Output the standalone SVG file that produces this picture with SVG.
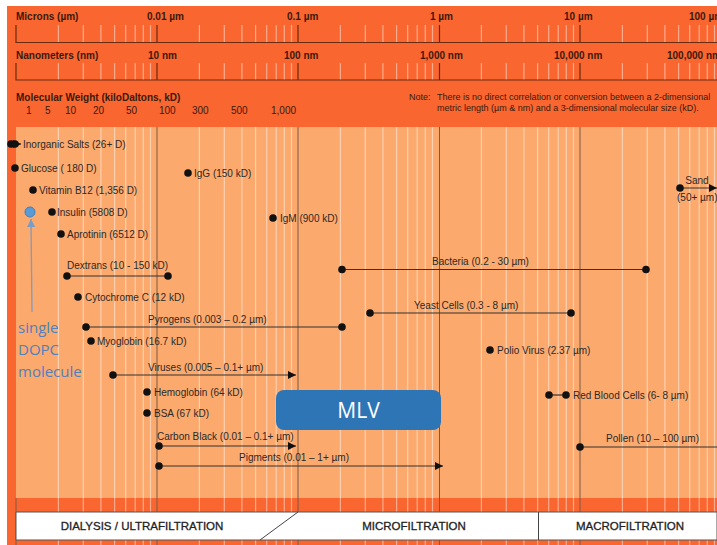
<svg xmlns="http://www.w3.org/2000/svg" width="717" height="545" viewBox="0 0 717 545">
<defs>
<marker id="arr" viewBox="0 0 10 10" refX="10" refY="5" markerWidth="9" markerHeight="8" markerUnits="userSpaceOnUse" orient="auto"><path d="M0,0 L10,5 L0,10 Z" fill="#111"/></marker>
<marker id="barr" viewBox="0 0 10 10" refX="10" refY="5" markerWidth="9" markerHeight="8" markerUnits="userSpaceOnUse" orient="auto"><path d="M0,0 L10,5 L0,10 Z" fill="#7a9cc6"/></marker>
<style>
.hd{font-family:"Liberation Sans",Arial,sans-serif;font-size:10px;font-weight:bold;fill:#3a1a0a}
.sc{font-family:"Liberation Sans",Arial,sans-serif;font-size:10px;fill:#3a1a0a}
.note{font-family:"Liberation Sans",Arial,sans-serif;font-size:9px;fill:#3a1a0a}
.lb{font-family:"Liberation Sans",Arial,sans-serif;font-size:10px;fill:#2a2a2a}
.bt{font-family:"Liberation Sans",Arial,sans-serif;font-size:11.5px;fill:#222;stroke:#222;stroke-width:0.3;text-anchor:middle}
.dot{fill:#111}
.ln{stroke:#333;stroke-width:1.2;fill:none}
.minor{stroke:#fff;stroke-opacity:0.45;stroke-width:1.2;fill:none}
.major{stroke:#7a5a45;stroke-width:1;fill:none}
.mtick{stroke:#6b2a10;stroke-width:1.2;fill:none}
</style>
</defs>
<rect width="717" height="545" fill="#fff"/>
<rect x="7" y="6" width="710" height="539" fill="#fa6630"/>
<rect x="16" y="127" width="701" height="371" fill="#fca96d"/>
<g id="grid">
<path class="minor" d="M58.4,25V42M83.3,25V42M100.9,25V42M114.6,25V42M125.7,25V42M135.2,25V42M143.3,25V42M150.5,25V42M199.4,25V42M224.3,25V42M241.9,25V42M255.6,25V42M266.7,25V42M276.2,25V42M284.3,25V42M291.5,25V42M340.4,25V42M365.3,25V42M382.9,25V42M396.6,25V42M407.7,25V42M417.2,25V42M425.3,25V42M432.5,25V42M481.4,25V42M506.3,25V42M523.9,25V42M537.6,25V42M548.7,25V42M558.2,25V42M566.3,25V42M573.5,25V42M622.4,25V42M647.3,25V42M664.9,25V42M678.6,25V42M689.7,25V42M699.2,25V42M707.3,25V42M714.5,25V42"/>
<path class="minor" d="M58.4,63V80M83.3,63V80M100.9,63V80M114.6,63V80M125.7,63V80M135.2,63V80M143.3,63V80M150.5,63V80M199.4,63V80M224.3,63V80M241.9,63V80M255.6,63V80M266.7,63V80M276.2,63V80M284.3,63V80M291.5,63V80M340.4,63V80M365.3,63V80M382.9,63V80M396.6,63V80M407.7,63V80M417.2,63V80M425.3,63V80M432.5,63V80M481.4,63V80M506.3,63V80M523.9,63V80M537.6,63V80M548.7,63V80M558.2,63V80M566.3,63V80M573.5,63V80M622.4,63V80M647.3,63V80M664.9,63V80M678.6,63V80M689.7,63V80M699.2,63V80M707.3,63V80M714.5,63V80"/>
<path class="minor" d="M58.4,127V545M83.3,127V545M100.9,127V545M114.6,127V545M125.7,127V545M135.2,127V545M143.3,127V545M150.5,127V545M199.4,127V545M224.3,127V545M241.9,127V545M255.6,127V545M266.7,127V545M276.2,127V545M284.3,127V545M291.5,127V545M340.4,127V545M365.3,127V545M382.9,127V545M396.6,127V545M407.7,127V545M417.2,127V545M425.3,127V545M432.5,127V545M481.4,127V545M506.3,127V545M523.9,127V545M537.6,127V545M548.7,127V545M558.2,127V545M566.3,127V545M573.5,127V545M622.4,127V545M647.3,127V545M664.9,127V545M678.6,127V545M689.7,127V545M699.2,127V545M707.3,127V545M714.5,127V545"/>
<path class="major" d="M157,127V545M298,127V545M439.5,127V545M580,127V545M16,498V545"/>
<path class="mtick" d="M16,25V42.5H717M16,63V80H717M157,25V42M298,25V42M439.5,25V42M580,25V42M157,63V80M298,63V80M439.5,63V80M580,63V80"/>
</g>
<g id="header">
<text class="hd" x="16" y="20">Microns (µm)</text>
<text class="hd" x="147" y="20">0.01 µm</text>
<text class="hd" x="287" y="20">0.1 µm</text>
<text class="hd" x="430" y="20">1 µm</text>
<text class="hd" x="564" y="20">10 µm</text>
<text class="hd" x="689" y="20">100 µm</text>
<text class="hd" x="16" y="59">Nanometers (nm)</text>
<text class="hd" x="148" y="59">10 nm</text>
<text class="hd" x="284" y="59">100 nm</text>
<text class="hd" x="420" y="59">1,000 nm</text>
<text class="hd" x="554" y="59">10,000 nm</text>
<text class="hd" x="667" y="59">100,000 nm</text>
<text class="hd" x="16" y="101">Molecular Weight (kiloDaltons, kD)</text>
<text class="sc" x="26" y="114">1</text>
<text class="sc" x="45" y="114">5</text>
<text class="sc" x="65" y="114">10</text>
<text class="sc" x="93" y="114">20</text>
<text class="sc" x="126" y="114">50</text>
<text class="sc" x="159" y="114">100</text>
<text class="sc" x="192" y="114">300</text>
<text class="sc" x="231" y="114">500</text>
<text class="sc" x="271" y="114">1,000</text>
<text class="note" x="409" y="100">Note:</text>
<text class="note" x="437" y="100">There is no direct correlation or conversion between a 2-dimensional</text>
<text class="note" x="437" y="111">metric length (µm &amp; nm) and a 3-dimensional molecular size (kD).</text>
</g>
<g id="connectors">
<path class="ln" d="M15,144H21" marker-end="url(#arr)"/>
<path class="ln" d="M680,188H717" marker-end="url(#arr)"/>
<path class="ln" d="M67,276H168"/>
<path class="ln" d="M342,269.5H646"/>
<path class="ln" d="M370,313H571"/>
<path class="ln" d="M86,327H342"/>
<path class="ln" d="M113,375H296" marker-end="url(#arr)"/>
<path class="ln" d="M549,395H566"/>
<path class="ln" d="M159,446H296" marker-end="url(#arr)"/>
<path class="ln" d="M159,466H443" marker-end="url(#arr)"/>
<path class="ln" d="M580,447H717"/>
<path d="M32,312L31,219" stroke="#7a9cc6" stroke-width="1.3" fill="none" marker-end="url(#barr)"/>
</g>
<g id="inorganic-salts"><circle class="dot" cx="11" cy="144" r="3.8"/><circle class="dot" cx="15" cy="144" r="3.8"/><text class="lb" x="23" y="147.5">Inorganic Salts (26+ D)</text></g>
<g id="glucose"><circle class="dot" cx="15" cy="168" r="3.8"/><text class="lb" x="21" y="171.5">Glucose ( 180 D)</text></g>
<g id="vitamin-b12"><circle class="dot" cx="33" cy="190" r="3.8"/><text class="lb" x="39" y="193.5">Vitamin B12 (1,356 D)</text></g>
<g id="dopc"><circle cx="30" cy="212" r="5" fill="#5b9bd5" stroke="#3f7fbf" stroke-width="1"/></g>
<g id="insulin"><circle class="dot" cx="52" cy="212" r="3.8"/><text class="lb" x="57" y="215.5">Insulin (5808 D)</text></g>
<g id="aprotinin"><circle class="dot" cx="61" cy="234" r="3.8"/><text class="lb" x="67" y="237.5">Aprotinin (6512 D)</text></g>
<g id="igg"><circle class="dot" cx="188" cy="173" r="3.8"/><text class="lb" x="194" y="176.5">IgG (150 kD)</text></g>
<g id="igm"><circle class="dot" cx="273" cy="218" r="3.8"/><text class="lb" x="280" y="221.5">IgM (900 kD)</text></g>
<g id="sand"><circle class="dot" cx="680" cy="188" r="3.8"/><text class="lb" x="697" y="184" text-anchor="middle">Sand</text><text class="lb" x="677" y="201">(50+ µm)</text></g>
<g id="dextrans"><circle class="dot" cx="67" cy="276" r="3.8"/><circle class="dot" cx="168" cy="276" r="3.8"/><text class="lb" x="67" y="269">Dextrans (10 - 150 kD)</text></g>
<g id="bacteria"><circle class="dot" cx="342" cy="269.5" r="3.8"/><circle class="dot" cx="646" cy="269.5" r="3.8"/><text class="lb" x="432" y="265">Bacteria (0.2 - 30 µm)</text></g>
<g id="cytochrome-c"><circle class="dot" cx="78" cy="297" r="3.8"/><text class="lb" x="85" y="300.5">Cytochrome C (12 kD)</text></g>
<g id="yeast-cells"><circle class="dot" cx="370" cy="313" r="3.8"/><circle class="dot" cx="571" cy="313" r="3.8"/><text class="lb" x="414" y="309">Yeast Cells (0.3 - 8 µm)</text></g>
<g id="pyrogens"><circle class="dot" cx="86" cy="327" r="3.8"/><circle class="dot" cx="342" cy="327" r="3.8"/><text class="lb" x="148" y="323">Pyrogens (0.003 – 0.2 µm)</text></g>
<g id="myoglobin"><circle class="dot" cx="91" cy="341" r="3.8"/><text class="lb" x="97" y="344.5">Myoglobin (16.7 kD)</text></g>
<g id="polio-virus"><circle class="dot" cx="490" cy="350" r="3.8"/><text class="lb" x="497" y="353.5">Polio Virus (2.37 µm)</text></g>
<g id="viruses"><circle class="dot" cx="113" cy="375" r="3.8"/><text class="lb" x="148" y="371">Viruses (0.005 – 0.1+ µm)</text></g>
<g id="hemoglobin"><circle class="dot" cx="147" cy="392" r="3.8"/><text class="lb" x="154" y="395.5">Hemoglobin (64 kD)</text></g>
<g id="bsa"><circle class="dot" cx="147" cy="413" r="3.8"/><text class="lb" x="154" y="416.5">BSA  (67 kD)</text></g>
<g id="red-blood-cells"><circle class="dot" cx="549" cy="395" r="3.8"/><circle class="dot" cx="566" cy="395" r="3.8"/><text class="lb" x="573" y="398.5">Red Blood Cells (6- 8 µm)</text></g>
<g id="carbon-black"><circle class="dot" cx="159" cy="446" r="3.8"/><text class="lb" x="157" y="440">Carbon Black (0.01 – 0.1+ µm)</text></g>
<g id="pigments"><circle class="dot" cx="159" cy="466" r="3.8"/><text class="lb" x="239" y="461">Pigments (0.01 – 1+ µm)</text></g>
<g id="pollen"><circle class="dot" cx="580" cy="447" r="3.8"/><text class="lb" x="606" y="442">Pollen (10 – 100 µm)</text></g>
<g id="mlv"><rect x="276" y="390" width="165" height="40" rx="8" fill="#2e75b6"/><text x="358.5" y="418" font-family="'Open Sans','Liberation Sans',sans-serif" font-size="21" fill="#fff" text-anchor="middle">MLV</text></g>
<g id="dopc-label" font-family="'Open Sans','Liberation Sans',sans-serif" font-size="15" fill="#4f81bd"><text x="18" y="333">single</text><text x="18" y="355">DOPC</text><text x="18" y="377">molecule</text></g>
<g id="filtration-bar">
<path d="M16,512H717V540H16Z" fill="#fff" stroke="#555" stroke-width="1"/>
<path d="M298,512L260,540M538.5,512V540" stroke="#444" stroke-width="1" fill="none"/>
<text class="bt" x="142" y="530">DIALYSIS / ULTRAFILTRATION</text>
<text class="bt" x="414" y="530">MICROFILTRATION</text>
<text class="bt" x="630" y="530">MACROFILTRATION</text>
</g>
</svg>
